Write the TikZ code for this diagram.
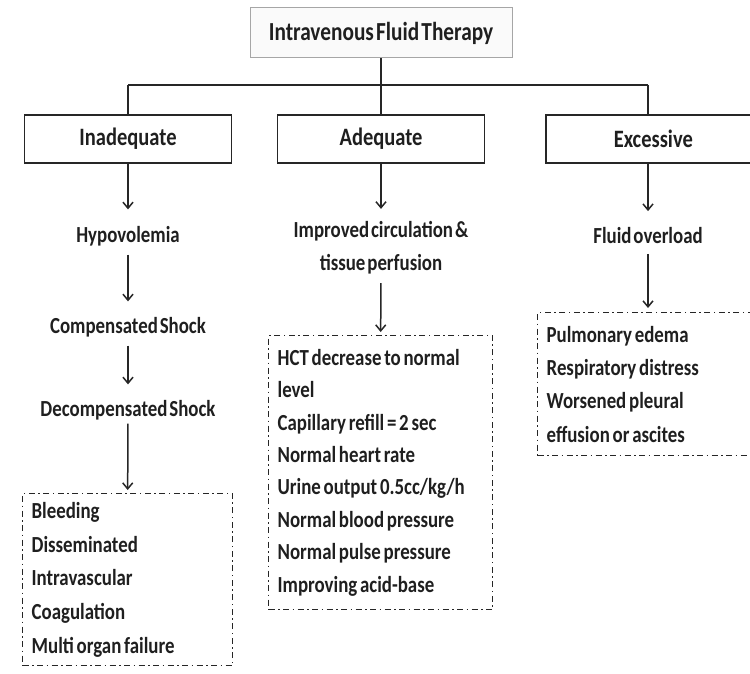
\documentclass[tikz,border=0pt]{standalone}
\usepackage{fontspec}
\setmainfont{Carlito}[FakeStretch=0.82, WordSpace=0.45, UprightFont=* Bold]
\usetikzlibrary{arrows.meta}
\begin{document}
\begin{tikzpicture}[x=1pt,y=-1pt,
  line width=1.5pt,
  every node/.style={font=\fontsize{23}{27}\selectfont, text=black!88},
  catbox/.style={draw=black!85, line width=1.6pt, minimum width=207pt, minimum height=48pt, inner sep=0pt, font=\fontsize{25}{29}\selectfont},
  lbl/.style={inner sep=0pt, align=center},
  ddbox/.style={draw=black!85, line width=1.3pt, dash pattern=on 6pt off 3.5pt on 1.5pt off 3.5pt, anchor=north west, inner xsep=9pt, inner ysep=0pt, align=left, execute at begin node={\spaceskip=0.12em plus 0.05em\relax}},
  arr/.style={draw=black!85, line width=1.5pt, -{Straight Barb[length=6pt,width=10pt,line width=1.5pt]}},
  conn/.style={draw=black!85, line width=1.6pt}
]
\useasboundingbox (0,0) rectangle (750,674);

% title
\node[draw=black!35, fill=black!2, line width=1pt, minimum width=262pt, minimum height=50pt, inner sep=0pt, font=\fontsize{26}{30}\selectfont] (title) at (381,33) {Intravenous Fluid Therapy};

% category boxes
\node[catbox] (inad) at (128,139) {Inadequate};
\node[catbox] (adeq) at (381,139) {Adequate};
\node[catbox, minimum width=215pt, anchor=west] (exc) at (545,139) {Excessive};

% connectors from title
\coordinate (bar) at (381,85);
\coordinate (barL) at (128,85);
\coordinate (barR) at (648,85);
\draw[conn] (title.south) -- (bar);
\draw[conn] (barL) -- (barR);
\draw[conn] (bar) -- (adeq.north);
\draw[conn] (barL) -- (inad.north);
\draw[conn] (barR) -- (barR |- exc.north);

% inadequate column
\node[lbl] (hypo) at (128,236) {Hypovolemia};
\node[lbl] (comp) at (128,327) {Compensated Shock};
\node[lbl] (decomp) at (128,410) {Decompensated Shock};
\node[ddbox, minimum width=210pt, minimum height=172pt, text width=192pt, font=\fontsize{23}{33.7}\selectfont] (inadbox) at (22,493) {Bleeding\\Disseminated\\Intravascular\\Coagulation\\Multi organ failure};

\draw[arr, shorten >=16pt] (inad.south) -- (hypo.north);
\draw[arr, shorten <=8pt, shorten >=15pt] (hypo.south) -- (comp.north);
\draw[arr, shorten <=8pt, shorten >=15pt] (comp.south) -- (decomp.north);
\draw[arr, shorten <=3pt, shorten >=3pt] (decomp.south) -- (inadbox.north);

% adequate column
\node[lbl, font=\fontsize{23}{33}\selectfont] (impr) at (381,248) {Improved circulation \&\\tissue perfusion};
\node[ddbox, minimum width=224pt, minimum height=274pt, text width=206pt, font=\fontsize{23}{32.4}\selectfont] (adeqbox) at (268,335) {HCT decrease to normal\\level\\Capillary refill = 2 sec\\Normal heart rate\\Urine output 0.5cc/kg/h\\Normal blood pressure\\Normal pulse pressure\\Improving acid-base};

\draw[arr, shorten >=12pt] (adeq.south) -- (impr.north);
\draw[arr, shorten <=8pt, shorten >=3pt] (impr.south) -- (adeqbox.north);

% excessive column
\node[lbl] (fluid) at (648,236) {Fluid overload};
\node[ddbox, minimum width=225pt, minimum height=143pt, text width=207pt, font=\fontsize{23}{33.3}\selectfont] (excbox) at (537,312) {Pulmonary edema\\Respiratory distress\\Worsened pleural\\effusion or ascites};

\draw[arr, shorten >=16pt] (exc.south -| barR) -- (fluid.north);
\draw[arr, shorten <=9pt, shorten >=4pt] (fluid.south) -- (barR |- excbox.north);
\end{tikzpicture}
\end{document}
